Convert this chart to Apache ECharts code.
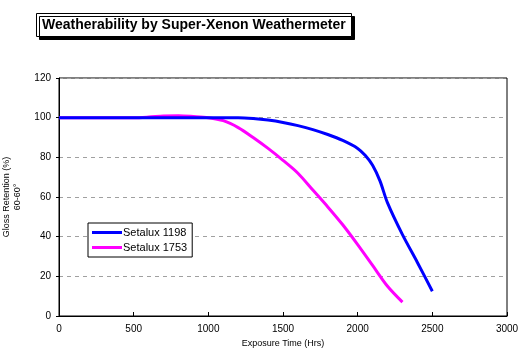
<!DOCTYPE html>
<html><head><meta charset="utf-8">
<script src="https://cdn.jsdelivr.net/npm/echarts@6/dist/echarts.min.js"></script>
<style>html,body{margin:0;padding:0;background:#fff}#c{width:529px;height:354px}</style>
</head><body><div id="c"></div>
<script>
const seriesNames = ['Setalux 1198', 'Setalux 1753'];
const hours1198 = [0, 200, 400, 600, 800, 1000, 1200, 1300, 1400, 1500, 1600, 1700, 1800, 1900, 2000, 2050, 2100, 2150, 2200, 2300, 2400, 2500];
const gloss1198 = [100, 100, 100, 100, 100, 100, 100, 99.6, 98.8, 97.6, 96, 94, 91.5, 88.5, 84.5, 81, 76, 68, 57, 41, 27, 12.5];
const hours1753 = [0, 200, 400, 500, 600, 700, 800, 900, 1000, 1100, 1200, 1300, 1400, 1500, 1600, 1700, 1800, 1900, 2000, 2100, 2200, 2300];
const gloss1753 = [100, 100, 100, 100, 100.3, 100.8, 101, 100.6, 100, 98.5, 95, 90, 84.5, 78.5, 72, 63.5, 55, 46, 36, 25.5, 15, 7];
const xTicks = [0, 500, 1000, 1500, 2000, 2500, 3000];
const yTicks = [0, 20, 40, 60, 80, 100, 120];

const chart = echarts.init(document.getElementById('c'));
chart.setOption({
  animation: false,
  backgroundColor: '#fff',
  title: {
    text: 'Weatherability by Super-Xenon Weathermeter',
    left: 36, top: 13,
    padding: [5, 6, 5, 6],
    backgroundColor: '#fff',
    borderColor: '#000', borderWidth: 1,
    shadowColor: '#000', shadowBlur: 0, shadowOffsetX: 3, shadowOffsetY: 3,
    textStyle: { fontFamily: 'Liberation Sans', fontWeight: 'bold', fontSize: 14, color: '#000' }
  },
  legend: {
    orient: 'vertical',
    left: 88, top: 223,
    backgroundColor: '#fff',
    borderColor: '#000', borderWidth: 1,
    padding: [4, 5, 4, 4],
    itemGap: 4,
    itemWidth: 30, itemHeight: 3,
    icon: 'rect',
    textStyle: { fontFamily: 'Liberation Sans', fontSize: 11, color: '#000', padding: [0, 0, 0, -4] },
    data: seriesNames
  },
  grid: { left: 59, right: 22, top: 78, bottom: 38, outerBoundsMode: 'none', containLabel: false, show: true, borderColor: '#000', borderWidth: 1 },
  xAxis: {
    type: 'value', min: xTicks[0], max: xTicks[xTicks.length - 1], interval: 500,
    name: 'Exposure Time (Hrs)', nameLocation: 'middle', nameGap: 16,
    nameTextStyle: { fontFamily: 'Liberation Sans', fontSize: 9, color: '#000' },
    axisLine: { lineStyle: { color: '#000', width: 1 } },
    axisTick: { inside: true, length: 4, lineStyle: { color: '#000' } },
    axisLabel: { fontFamily: 'Liberation Sans', fontSize: 10, color: '#000', margin: 8, formatter: v => String(v) },
    splitLine: { show: false }
  },
  yAxis: {
    type: 'value', min: yTicks[0], max: yTicks[yTicks.length - 1], interval: 20,
    name: 'Gloss Retention (%)\n60-60°', nameLocation: 'middle', nameGap: 15, nameRotate: 90,
    nameTextStyle: { fontFamily: 'Liberation Sans', fontSize: 9, color: '#000', lineHeight: 11 },
    axisLine: { lineStyle: { color: '#000', width: 1 } },
    axisTick: { inside: false, length: 3, lineStyle: { color: '#000' } },
    axisLabel: { fontFamily: 'Liberation Sans', fontSize: 10, color: '#000', margin: 8, formatter: v => String(v) },
    splitLine: { show: true, lineStyle: { color: '#a0a0a0', type: [4, 4], width: 1 } }
  },
  series: [
    {
      name: seriesNames[0], type: 'line', smooth: 0.3, symbol: 'none',
      lineStyle: { color: '#0000ff', width: 3 }, itemStyle: { color: '#0000ff' },
      data: hours1198.map((h, i) => [h, gloss1198[i]]), z: 3
    },
    {
      name: seriesNames[1], type: 'line', smooth: 0.3, symbol: 'none',
      lineStyle: { color: '#ff00ff', width: 3 }, itemStyle: { color: '#ff00ff' },
      data: hours1753.map((h, i) => [h, gloss1753[i]]), z: 2
    }
  ]
});
</script>
</body></html>
